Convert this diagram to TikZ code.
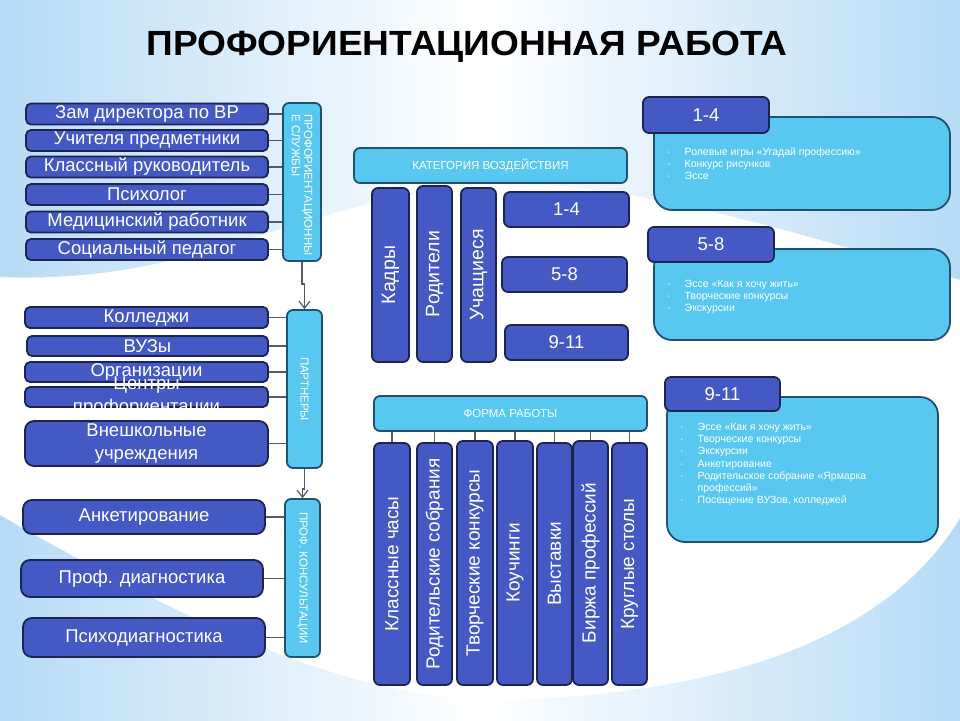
\documentclass[tikz,border=0pt]{standalone}
\usepackage{graphicx}
\usepackage{fontspec}
\setmainfont{Liberation Sans}
\usetikzlibrary{positioning, calc}
\usetikzlibrary{arrows.meta}

\definecolor{bgblue}{RGB}{183,219,246}
\definecolor{boxblue}{RGB}{68,89,196}
\definecolor{boxline}{RGB}{28,36,84}
\definecolor{cyanbox}{RGB}{88,200,240}
\definecolor{cyanline}{RGB}{30,82,112}
\definecolor{linkgray}{RGB}{80,90,112}

\tikzset{
  darkbox/.style={draw=boxline, fill=boxblue, line width=1.8pt, rounded corners=5pt,
    text=white, inner sep=0pt, align=center},
  lightbox/.style={draw=cyanline, fill=cyanbox, line width=1.8pt, rounded corners=6pt,
    text=white, inner sep=0pt, align=center},
  capsfont/.style={font=\fontsize{11.5}{13}\selectfont},
  numfont/.style={font=\fontsize{18.5}{22}\selectfont},
  vtext/.style={text=white, rotate=90, font=\fontsize{19.5}{22}\selectfont},
  vcaps/.style={text=white, rotate=-90, font=\fontsize{11.5}{12.5}\selectfont},
  itemfont/.style={text=white, inner sep=0pt, font=\fontsize{10.5}{12.2}\selectfont},
  link/.style={draw=linkgray, line width=1.2pt},
}

\begin{document}
\begin{tikzpicture}[x=1pt, y=-1pt, >={Straight Barb[length=7pt,width=11pt]},
  font=\fontsize{18.5}{23}\selectfont]

% --- fondo
\useasboundingbox (0,0) rectangle (960,720);
\shade[left color=bgblue, right color=bgblue, middle color=white] (0,0) rectangle (960,720);
\fill[white] (0,277) .. controls (200,285) and (300,200) .. (480,185)
  .. controls (620,175) and (800,235) .. (960,280) -- (960,518)
  .. controls (880,650) and (700,695) .. (500,700)
  .. controls (330,700) and (150,600) .. (0,515) -- cycle;

% --- titolo
\node[font=\bfseries\fontsize{35}{40}\selectfont, anchor=base] (title) at (467,55)
  {\scalebox{1.06}[1]{ПРОФОРИЕНТАЦИОННАЯ РАБОТА}};

% --- службы
\node[darkbox, minimum width=242pt, minimum height=21pt] (zam) at (147,114) {Зам директора по ВР};
\node[darkbox, minimum width=242pt, minimum height=21pt] (uchit) at (147,140.5) {Учителя предметники};
\node[darkbox, minimum width=242pt, minimum height=21pt] (klass) at (147,167) {Классный руководитель};
\node[darkbox, minimum width=242pt, minimum height=21pt] (psych) at (147,194.5) {Психолог};
\node[darkbox, minimum width=242pt, minimum height=21pt] (med) at (147,222) {Медицинский работник};
\node[darkbox, minimum width=242pt, minimum height=21pt] (soc) at (147,249.5) {Социальный педагог};

\node[lightbox, minimum width=38pt, minimum height=158pt] (serv) at (302,182) {};
\node[vcaps, anchor=west, align=left] at ([yshift=-9pt]serv.north) {ПРОФОРИЕНТАЦИОННЫ\\Е СЛУЖБЫ};

\foreach \n in {zam,uchit,klass,psych,med,soc}
  \draw[link] (\n.east) -- (\n.east -| serv.west);

% --- партнеры
\node[darkbox, minimum width=243pt, minimum height=21pt] (koll) at (146.5,317.5) {Колледжи};
\node[darkbox, minimum width=241pt, minimum height=20pt] (vuz) at (147.5,346) {ВУЗы};
\node[darkbox, minimum width=243pt, minimum height=20pt] (org) at (146.5,372) {Организации};
\node[darkbox, minimum width=243pt, minimum height=20pt] (centr) at (146.5,397) {};
\node[text=white, align=center] at (centr) {Центры\\профориентации};
\node[darkbox, rounded corners=9pt, minimum width=243pt, minimum height=45pt] (vnesh) at (146.5,443.5)
  {Внешкольные\\учреждения};

\node[lightbox, minimum width=35pt, minimum height=158pt] (part) at (304.5,389) {};
\node[vcaps] at (part) {ПАРТНЕРЫ};

\foreach \n in {koll,vuz,org,centr,vnesh}
  \draw[link] (\n.east) -- (\n.east -| part.west);

% --- консультации
\node[darkbox, rounded corners=9pt, minimum width=242pt, minimum height=34pt] (anket) at (144,517) {Анкетирование};
\node[darkbox, rounded corners=9pt, minimum width=242pt, minimum height=37pt] (diag) at (142,578.5) {Проф. диагностика};
\node[darkbox, rounded corners=9pt, minimum width=242pt, minimum height=39pt] (psdiag) at (144,637.5) {Психодиагностика};

\node[lightbox, minimum width=35pt, minimum height=158pt] (cons) at (302.5,578) {};
\node[vcaps] at (cons) {ПРОФ. КОНСУЛЬТАЦИИ};

\foreach \n in {anket,diag,psdiag}
  \draw[link] (\n.east) -- (\n.east -| cons.west);

% --- frecce verticali
\draw[link,->] (serv.south) -- ++(0,22) -| (part.north);
\draw[link,->] (part.south) -- ++(0,20) -| (cons.north);

% --- категория воздействия
\node[lightbox, capsfont, minimum width=273pt, minimum height=35pt] (cat) at (490.5,165.5) {КАТЕГОРИЯ ВОЗДЕЙСТВИЯ};
\node[darkbox, rounded corners=6pt, minimum width=37pt, minimum height=174pt] (kadry) at (390.5,275) {};
\node[darkbox, rounded corners=6pt, minimum width=35pt, minimum height=176pt] (rodit) at (434.5,274) {};
\node[darkbox, rounded corners=6pt, minimum width=35pt, minimum height=174pt] (uchas) at (478.5,275) {};
\node[vtext] at (kadry) {Кадры};
\node[vtext] at (rodit) {Родители};
\node[vtext] at (uchas) {Учащиеся};

\node[darkbox, numfont, rounded corners=6pt, minimum width=125pt, minimum height=35pt] (g14) at (566.5,209.5) {1-4};
\node[darkbox, numfont, rounded corners=6pt, minimum width=125pt, minimum height=35pt] (g58) at (564.5,274.5) {5-8};
\node[darkbox, numfont, rounded corners=6pt, minimum width=123pt, minimum height=35pt] (g911) at (566.5,342.5) {9-11};

% --- форма работы
\node[lightbox, capsfont, minimum width=273pt, minimum height=35pt] (form) at (510.5,413.5) {ФОРМА РАБОТЫ};
\node[darkbox, rounded corners=6pt, minimum width=36pt, minimum height=242pt] (f1) at (392,564) {};
\node[darkbox, rounded corners=6pt, minimum width=35pt, minimum height=242pt] (f2) at (434.5,564) {};
\node[darkbox, rounded corners=6pt, minimum width=36pt, minimum height=244pt] (f3) at (475,563) {};
\node[darkbox, rounded corners=6pt, minimum width=36pt, minimum height=244pt] (f4) at (515,563) {};
\node[darkbox, rounded corners=6pt, minimum width=35pt, minimum height=242pt] (f5) at (554.5,564) {};
\node[darkbox, rounded corners=6pt, minimum width=35pt, minimum height=244pt] (f6) at (590.5,563) {};
\node[darkbox, rounded corners=6pt, minimum width=35pt, minimum height=242pt] (f7) at (629.5,564) {};
\node[vtext, font=\fontsize{19}{22}\selectfont] at (f1) {Классные часы};
\node[vtext, font=\fontsize{19}{22}\selectfont] at (f2) {Родительские собрания};
\node[vtext, font=\fontsize{19}{22}\selectfont] at (f3) {Творческие конкурсы};
\node[vtext, font=\fontsize{19}{22}\selectfont] at (f4) {Коучинги};
\node[vtext, font=\fontsize{19}{22}\selectfont] at (f5) {Выставки};
\node[vtext, font=\fontsize{19}{22}\selectfont] at (f6) {Биржа профессий};
\node[vtext, font=\fontsize{19}{22}\selectfont] at (f7) {Круглые столы};

\foreach \n in {f1,f2,f3,f4,f5,f6,f7}
  \draw[link] (form.south -| \n.north) -- (\n.north);

% --- классы: 1-4
\node[lightbox, rounded corners=18pt, minimum width=296pt, minimum height=93pt] (c14) at (802,163.5) {};
\node[darkbox, numfont, rounded corners=6pt, minimum width=126pt, minimum height=36pt] (t14) at (706,115) {1-4};
\node[itemfont, anchor=base west] (l14) at (667,155)
  {\begin{tabular}[t]{@{}l@{\hspace{14pt}}l@{}}
   · & Ролевые игры «Угадай профессию»\\
   · & Конкурс рисунков\\
   · & Эссе
   \end{tabular}};

% --- классы: 5-8
\node[lightbox, rounded corners=18pt, minimum width=296pt, minimum height=91pt] (c58) at (802,294.5) {};
\node[darkbox, numfont, rounded corners=6pt, minimum width=126pt, minimum height=35pt] (t58) at (711,244.5) {5-8};
\node[itemfont, anchor=base west] (l58) at (667,287)
  {\begin{tabular}[t]{@{}l@{\hspace{14pt}}l@{}}
   · & Эссе «Как я хочу жить»\\
   · & Творческие конкурсы\\
   · & Экскурсии
   \end{tabular}};

% --- классы: 9-11
\node[lightbox, rounded corners=18pt, minimum width=271pt, minimum height=145pt] (c911) at (802.5,469.5) {};
\node[darkbox, numfont, rounded corners=6pt, minimum width=115pt, minimum height=34pt] (t911) at (722.5,394) {9-11};
\node[itemfont, anchor=base west] (l911) at (680,430.5)
  {\begin{tabular}[t]{@{}l@{\hspace{14pt}}l@{}}
   · & Эссе «Как я хочу жить»\\
   · & Творческие конкурсы\\
   · & Экскурсии\\
   · & Анкетирование\\
   · & Родительское собрание «Ярмарка\\
     & профессий»\\
   · & Посещение ВУЗов, колледжей
   \end{tabular}};

\end{tikzpicture}
\end{document}
